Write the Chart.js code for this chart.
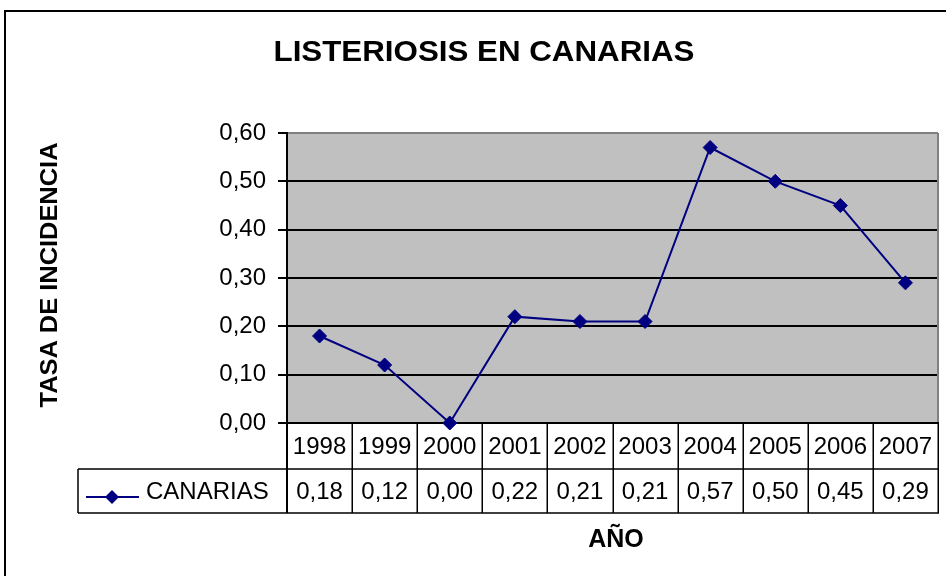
<!DOCTYPE html>
<html>
<head>
<meta charset="utf-8">
<script src="https://cdn.jsdelivr.net/npm/chart.js@4/dist/chart.umd.min.js"></script>
<style>
html,body{margin:0;padding:0;background:#fff;}
canvas{display:block;}
</style>
</head>
<body>
<canvas id="c" width="946" height="576"></canvas>
<script>
const title = "LISTERIOSIS EN CANARIAS";
const yTitle = "TASA DE INCIDENCIA";
const xTitle = "AÑO";
const seriesName = "CANARIAS";
const years = ["1998","1999","2000","2001","2002","2003","2004","2005","2006","2007"];
const values = [0.18, 0.12, 0.00, 0.22, 0.21, 0.21, 0.57, 0.50, 0.45, 0.29];
const yTicks = [0, 0.1, 0.2, 0.3, 0.4, 0.5, 0.6];

const FONT = '"Liberation Sans", Arial, sans-serif';
const NAVY = '#000080';
const fmt = v => v.toFixed(2).replace('.', ',');

function fitText(ctx, text, x, y, font, targetW, align) {
  ctx.save();
  ctx.font = font;
  const w = ctx.measureText(text).width;
  const sx = targetW / w;
  ctx.translate(x, y);
  ctx.scale(sx, 1);
  ctx.textAlign = align || 'center';
  ctx.fillText(text, 0, 0);
  ctx.restore();
}

const decor = {
  id: 'decor',
  beforeDraw(chart) {
    const {ctx, chartArea: a} = chart;
    ctx.save();
    ctx.fillStyle = '#fff';
    ctx.fillRect(0, 0, chart.width, chart.height);
    // outer frame
    ctx.strokeStyle = '#000';
    ctx.lineWidth = 2;
    ctx.beginPath();
    ctx.moveTo(5, 576);
    ctx.lineTo(5, 11);
    ctx.lineTo(946, 11);
    ctx.stroke();
    // plot background
    ctx.fillStyle = '#C0C0C0';
    ctx.fillRect(a.left, a.top, a.right - a.left, a.bottom - a.top);
    ctx.restore();
  },
  beforeDatasetsDraw(chart) {
    const {ctx, chartArea: a} = chart;
    ctx.save();
    ctx.strokeStyle = '#808080';
    ctx.lineWidth = 2;
    ctx.beginPath();
    ctx.moveTo(a.right, a.top);
    ctx.lineTo(a.right, a.bottom);
    ctx.stroke();
    // baseline
    ctx.strokeStyle = '#000';
    ctx.beginPath();
    ctx.moveTo(a.left, a.bottom);
    ctx.lineTo(a.right + 1, a.bottom);
    ctx.stroke();
    ctx.restore();
  },
  afterDraw(chart) {
    const {ctx, chartArea: a} = chart;
    const xs = chart.scales.x;
    const n = years.length;
    const colW = (a.right - a.left) / n;
    const row1Bot = a.bottom + 46;
    const row2Bot = a.bottom + 90;
    const legLeft = 78;
    ctx.save();
    ctx.fillStyle = '#000';
    // titles
    ctx.textBaseline = 'alphabetic';
    fitText(ctx, title, 484, 61, 'bold 29px ' + FONT, 421, 'center');
    ctx.save();
    ctx.translate(57, 275);
    ctx.rotate(-Math.PI / 2);
    fitText(ctx, yTitle, 0, 0, 'bold 23px ' + FONT, 265, 'center');
    ctx.restore();
    ctx.font = 'bold 25px ' + FONT;
    ctx.textAlign = 'center';
    ctx.fillText(xTitle, 616, 547);

    // table lines
    ctx.strokeStyle = '#000';
    ctx.lineWidth = 1.5;
    ctx.beginPath();
    for (let i = 0; i <= n; i++) {
      const x = Math.round(a.left + i * colW) + 0.25;
      ctx.moveTo(x, a.bottom);
      ctx.lineTo(x, row2Bot);
    }
    ctx.moveTo(legLeft, row1Bot);
    ctx.lineTo(a.right + 1, row1Bot);
    ctx.moveTo(legLeft, row2Bot);
    ctx.lineTo(a.right + 1, row2Bot);
    ctx.moveTo(legLeft, row1Bot);
    ctx.lineTo(legLeft, row2Bot);
    ctx.stroke();
    ctx.lineWidth = 2;
    ctx.beginPath();
    ctx.moveTo(a.left, a.bottom);
    ctx.lineTo(a.left, row2Bot);
    ctx.stroke();

    // table text
    ctx.font = '24px ' + FONT;
    ctx.textAlign = 'center';
    ctx.textBaseline = 'middle';
    years.forEach((yr, i) => {
      const cx = xs.getPixelForValue(i);
      ctx.fillText(yr, cx, (a.bottom + row1Bot) / 2 + 1);
      ctx.fillText(fmt(values[i]), cx, (row1Bot + row2Bot) / 2 + 1);
    });
    // legend key
    const ly = row1Bot + 28;
    ctx.strokeStyle = NAVY;
    ctx.lineWidth = 2;
    ctx.beginPath();
    ctx.moveTo(86, ly);
    ctx.lineTo(139, ly);
    ctx.stroke();
    ctx.fillStyle = NAVY;
    ctx.beginPath();
    ctx.moveTo(112, ly - 7);
    ctx.lineTo(119, ly);
    ctx.lineTo(112, ly + 7);
    ctx.lineTo(105, ly);
    ctx.closePath();
    ctx.fill();
    ctx.fillStyle = '#000';
    ctx.textAlign = 'left';
    ctx.fillText(seriesName, 146, (row1Bot + row2Bot) / 2 + 1);
    ctx.restore();
  }
};

new Chart(document.getElementById('c'), {
  type: 'line',
  data: {
    labels: years,
    datasets: [{
      label: seriesName,
      data: values,
      borderColor: NAVY,
      backgroundColor: NAVY,
      borderWidth: 2,
      pointStyle: 'rectRot',
      pointRadius: 7,
      pointBorderWidth: 1,
      pointBackgroundColor: NAVY,
      pointBorderColor: NAVY,
      tension: 0,
      clip: false
    }]
  },
  options: {
    responsive: false,
    animation: false,
    devicePixelRatio: 1,
    layout: { padding: { top: 133, bottom: 153, left: 0, right: 5 } },
    plugins: { legend: { display: false }, title: { display: false }, tooltip: { enabled: false } },
    scales: {
      x: {
        type: 'category',
        display: false,
        offset: true
      },
      y: {
        min: 0,
        max: 0.6,
        afterFit(scale) { scale.width = 287; },
        afterBuildTicks(scale) { scale.ticks = yTicks.map(v => ({ value: v })); },
        ticks: {
          color: '#000',
          font: { family: FONT, size: 24 },
          padding: 12,
          callback: v => fmt(v)
        },
        grid: {
          color: ctx => (ctx.tick && ctx.tick.value >= 0.6) ? '#808080' : '#000',
          lineWidth: 2,
          tickColor: '#000',
          tickLength: 9,
          drawOnChartArea: true
        },
        border: { display: true, color: '#000', width: 2 }
      }
    }
  },
  plugins: [decor]
});
</script>
</body>
</html>
